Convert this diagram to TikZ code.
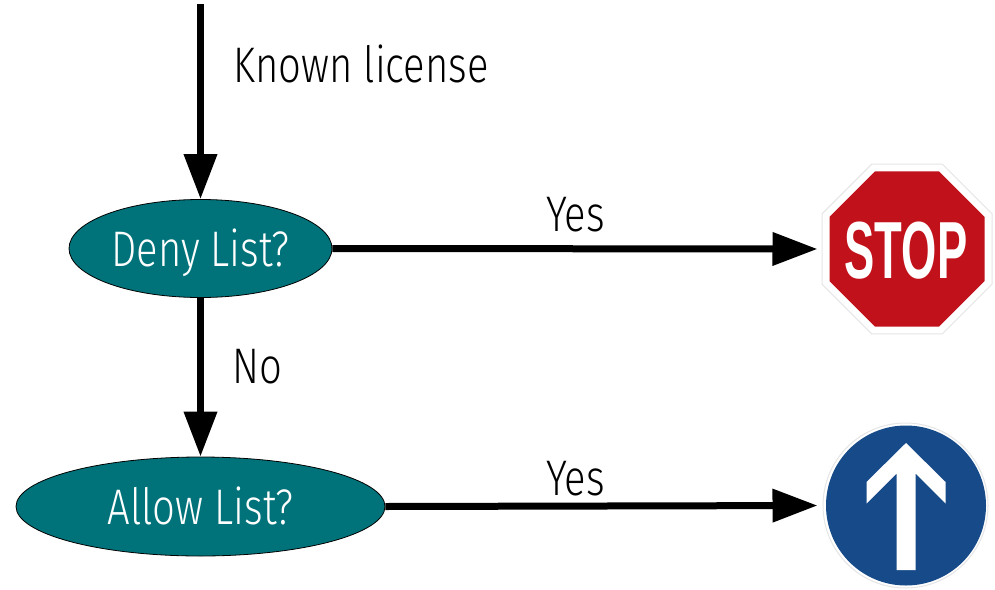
\documentclass[tikz,border=0pt]{standalone}
\usepackage{fontspec}
\setmainfont{Fira Sans}[UprightFont={* Light}, FakeStretch=0.8]
\newfontfamily\stopfont{Liberation Sans}[FakeStretch=0.56]
\usetikzlibrary{arrows.meta,shapes.geometric}
\definecolor{tealfill}{HTML}{00737A}
\definecolor{stopred}{HTML}{C1121C}
\definecolor{signblue}{HTML}{164A89}
\definecolor{rimgrey}{HTML}{E5E5E5}
\tikzset{
  decision/.style={ellipse, fill=tealfill, draw=black, line width=0.8pt, inner sep=0pt,
    text=white, font=\fontsize{50}{50}\selectfont, text height=35pt, text depth=0pt},
  flow/.style={line width=7pt, -{Triangle[length=45pt,width=32pt]}},
  lbl/.style={inner sep=0pt, anchor=base west, font=\fontsize{50}{50}\selectfont},
  octa/.style={regular polygon, regular polygon sides=8, inner sep=0pt},
}
\begin{document}
\begin{tikzpicture}[x=1pt,y=-1pt]
\useasboundingbox (0,0) rectangle (995,589);
% decisions
\node[decision, minimum width=263pt, minimum height=98pt] (deny) at (200.5,248.5) {Deny List?};
\node[decision, minimum width=369pt, minimum height=99pt] (allow) at (200.5,506.5) {Allow List?};
\coordinate (start) at (200.5,4);
% stop sign
\node[octa, minimum size=184pt, fill=white, draw=rimgrey, line width=1pt] (stop) at (907,249) {};
\node[octa, minimum size=167.8pt, fill=stopred] (stopin) at (907,249) {};
\node[inner sep=0pt, text=white, font=\stopfont\bfseries\fontsize{81}{81}\selectfont,
  text height=58pt, text depth=0pt] (stoptext) at (906,249) {STOP};
% go sign
\node[circle, minimum size=165pt, fill=white, draw=rimgrey, line width=1pt] (go) at (905.5,505.5) {};
\node[circle, minimum size=160pt, fill=signblue] (goin) at (906,505.5) {};
\fill[white] (906,443) -- (866.5,482) -- (866.5,503.5) -- (896.5,473.5) -- (896.5,570)
  -- (915.5,570) -- (915.5,473.5) -- (945.5,503.5) -- (945.5,482) -- cycle;
% connectors
\draw[flow] (start) -- (deny);
\draw[flow] (deny) -- (allow);
\draw[flow, shorten >=4pt] (deny.east) -- (stop.west);
\draw[flow, shorten >=5pt] (allow.east) -- (go.west);
% labels
\node[lbl] (lknown) at (233,82) {Known license};
\node[lbl] (lyes1) at (546,231) {Yes};
\node[lbl] (lno) at (232,383) {No};
\node[lbl] (lyes2) at (546,495) {Yes};
\end{tikzpicture}
\end{document}
